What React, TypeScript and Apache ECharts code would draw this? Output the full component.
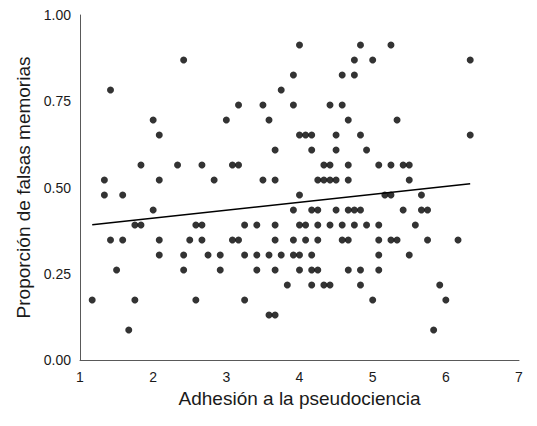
import React, { useEffect, useRef } from "react";
import * as echarts from "echarts";

// Scores are means of 12 items (x) and proportions out of 23 (y).
// Each row: y level (out of 23) and the list of x levels (out of 12).
const yLevels: number[] = [21, 20, 19, 18, 17, 16, 15, 14, 13, 12, 11, 10, 9, 8, 7, 6, 5, 4, 3, 2];
const xLevelsByRow: number[][] = [
  [48, 58, 63],
  [29, 57, 60, 76],
  [47, 55, 57],
  [17, 45],
  [38, 42, 47, 53, 55],
  [24, 36, 43, 56, 64],
  [25, 48, 49, 50, 54, 58, 76],
  [44, 50, 54, 59],
  [22, 28, 32, 37, 38, 52, 53, 56, 61, 63, 65, 66],
  [16, 25, 34, 42, 44, 51, 52, 53, 54, 56, 66],
  [16, 19, 48, 62, 63, 68],
  [24, 47, 50, 51, 54, 56, 57, 58, 65, 68, 69],
  [21, 22, 31, 32, 39, 41, 44, 48, 49, 51, 53, 55, 57, 59, 61, 67],
  [17, 19, 25, 30, 32, 37, 38, 44, 47, 49, 51, 55, 56, 61, 63, 64, 69, 74],
  [25, 29, 33, 35, 39, 41, 43, 45, 47, 48, 50, 61, 66],
  [18, 29, 35, 41, 44, 48, 50, 51, 56, 58, 61],
  [46, 50, 52, 53, 58, 71],
  [14, 21, 31, 39, 60, 72],
  [43, 44],
  [20, 70],
];

// Trend line (start and end of fitted line)
const trendX: number[] = [1.167, 6.333];
const trendY: number[] = [0.392, 0.511];

const xTicks: number[] = [1, 2, 3, 4, 5, 6, 7];
const yTicks: number[] = [0, 0.25, 0.5, 0.75, 1];

export default function App() {
  const ref = useRef<HTMLDivElement>(null);
  useEffect(() => {
    if (!ref.current) return;
    const chart = echarts.init(ref.current, undefined, { renderer: "svg" });
    const points: number[][] = [];
    yLevels.forEach((m, i) => {
      xLevelsByRow[i].forEach((k) => points.push([k / 12, m / 23]));
    });
    const font = "'Liberation Sans', Arial, sans-serif";
    chart.setOption({
      animation: false,
      backgroundColor: "#ffffff",
      grid: { left: 80, right: 18, top: 15, bottom: 66 },
      xAxis: {
        type: "value",
        min: xTicks[0],
        max: xTicks[xTicks.length - 1],
        interval: 1,
        name: "Adhesión a la pseudociencia",
        nameLocation: "middle",
        nameGap: 28,
        nameTextStyle: { fontFamily: font, fontSize: 19, color: "#1a1a1a" },
        axisLine: { show: true, lineStyle: { color: "#595959", width: 1 } },
        axisTick: { show: false },
        splitLine: { show: false },
        axisLabel: { fontFamily: font, fontSize: 14, color: "#1a1a1a", margin: 10 },
      },
      yAxis: {
        type: "value",
        min: yTicks[0],
        max: yTicks[yTicks.length - 1],
        interval: 0.25,
        name: "Proporción de falsas memorias",
        nameLocation: "middle",
        nameGap: 46,
        nameTextStyle: { fontFamily: font, fontSize: 19, color: "#1a1a1a" },
        axisLine: { show: true, lineStyle: { color: "#595959", width: 1 } },
        axisTick: { show: false },
        splitLine: { show: false },
        axisLabel: {
          fontFamily: font,
          fontSize: 14,
          color: "#1a1a1a",
          margin: 9,
          formatter: (v: number) => v.toFixed(2),
        },
      },
      series: [
        {
          type: "scatter",
          data: points,
          symbol: "circle",
          symbolSize: 7,
          itemStyle: { color: "#000" },
        },
        {
          type: "line",
          data: trendX.map((x, i) => [x, trendY[i]]),
          symbol: "none",
          lineStyle: { color: "#000", width: 1.5 },
        },
      ],
    });
    return () => chart.dispose();
  }, []);
  return <div ref={ref} style={{ position: "fixed", left: 0, top: 0, width: 537, height: 426 }} />;
}
